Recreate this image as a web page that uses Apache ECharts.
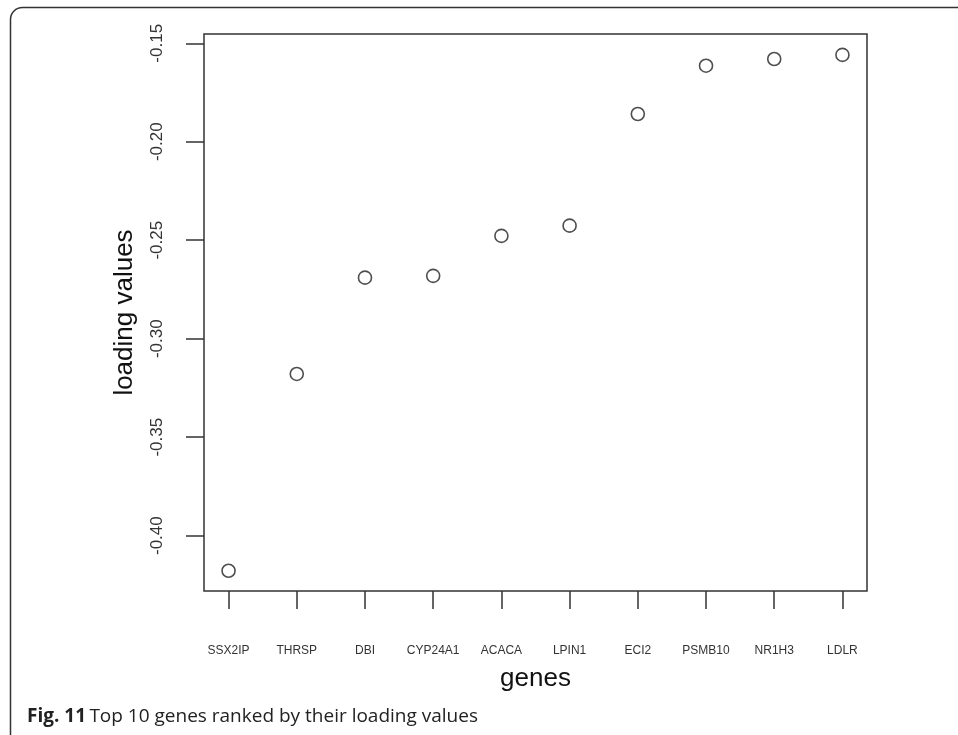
<!DOCTYPE html>
<html>
<head>
<meta charset="utf-8">
<script src="https://cdn.jsdelivr.net/npm/echarts@6/dist/echarts.min.js"></script>
<style>
html,body{margin:0;padding:0;background:#fff;}
#chart{width:958px;height:735px;}
</style>
</head>
<body>
<div id="chart"></div>
<script>
const genes = ["SSX2IP","THRSP","DBI","CYP24A1","ACACA","LPIN1","ECI2","PSMB10","NR1H3","LDLR"];
const loadings = [-0.4178,-0.3179,-0.2690,-0.2681,-0.2478,-0.2426,-0.1859,-0.1614,-0.1580,-0.1559];
const yTicks = [-0.40,-0.35,-0.30,-0.25,-0.20,-0.15];
const xTicks = [1,2,3,4,5,6,7,8,9,10];

const chart = echarts.init(document.getElementById('chart'));
const font = '"Liberation Sans", Arial, Helvetica, sans-serif';
chart.setOption({
  animation: false,
  backgroundColor: '#fff',
  grid: {left: 204, top: 34, width: 663, height: 557, show: true, borderColor: '#333', borderWidth: 1.5, backgroundColor: 'transparent'},
  xAxis: {
    type: 'value', min: 0.64, max: 10.36,
    axisLine: {show: false},
    splitLine: {show: false},
    axisTick: {show: true, length: 18, customValues: xTicks, lineStyle: {color: '#333', width: 1.5}},
    axisLabel: {customValues: xTicks, margin: 54, fontSize: 12, color: '#333', fontFamily: font,
      formatter: v => genes[Math.round(v) - 1]},
    name: 'genes', nameLocation: 'middle', nameGap: 75,
    nameTextStyle: {fontSize: 26, color: '#111', fontFamily: font}
  },
  yAxis: {
    type: 'value', min: -0.4281, max: -0.1453,
    axisLine: {show: false},
    splitLine: {show: false},
    axisTick: {show: true, length: 18, customValues: yTicks, lineStyle: {color: '#333', width: 1.5}},
    axisLabel: {customValues: yTicks, rotate: 90, margin: 38, fontSize: 17, color: '#333', fontFamily: font,
      formatter: v => v.toFixed(2)},
    name: 'loading values', nameLocation: 'middle', nameGap: 66, nameRotate: 90,
    nameTextStyle: {fontSize: 26, color: '#111', fontFamily: font}
  },
  series: [{
    type: 'scatter',
    data: genes.map((g, i) => [xTicks[i], loadings[i]]),
    symbol: 'circle', symbolSize: 13,
    itemStyle: {color: '#fff', borderColor: '#222', borderWidth: 1.6}
  }],
  graphic: [
    {type: 'rect', shape: {x: 10.5, y: 7.5, width: 970, height: 740, r: 12}, style: {fill: 'none', stroke: '#333', lineWidth: 1.5}, z: 0},
    {type: 'text', left: 27, top: 707, style: {rich: {b: {fontWeight: 'bold', fontSize: 19, fontFamily: '"Open Sans", sans-serif', fill: '#222'}, n: {fontSize: 19, fontFamily: '"Open Sans", sans-serif', fill: '#222'}}, text: '{b|Fig. 11} {n|Top 10 genes ranked by their loading values}'}}
  ]
});
</script>
</body>
</html>
